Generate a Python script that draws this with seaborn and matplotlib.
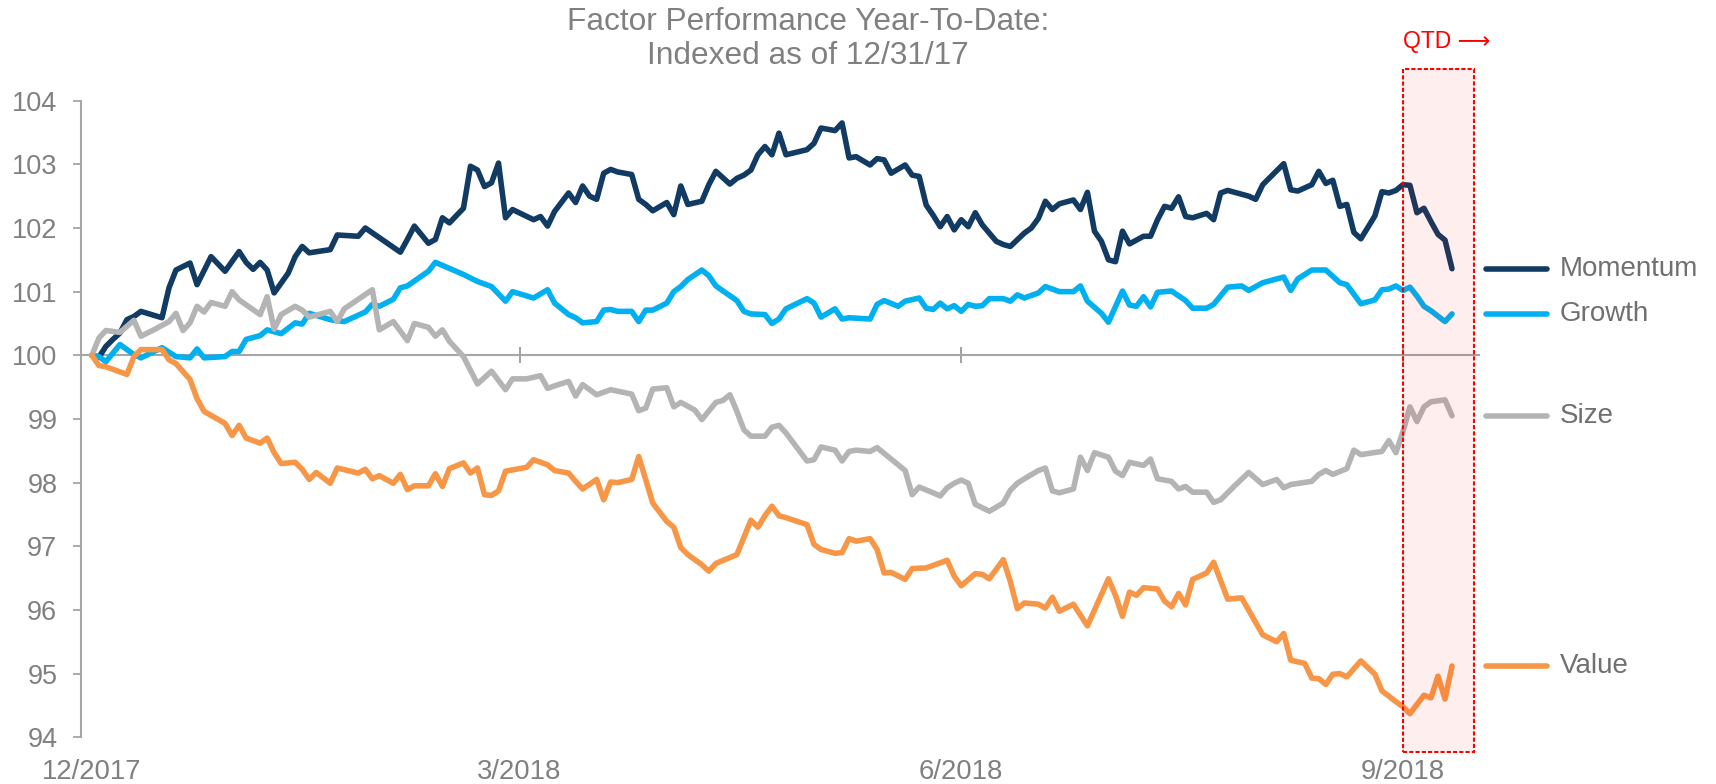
import pandas as pd
import seaborn as sns
import matplotlib.pyplot as plt
import matplotlib.transforms as mtransforms

# trading-day number since 12/29/2017 and index level
momentum_day = [0, 1, 2, 3, 4, 5, 6, 7, 10, 11, 12, 14, 15, 17, 19, 21, 22, 23, 24, 25,
                26, 28, 29, 30, 31, 34, 35, 38, 39, 44, 45, 46, 48, 49, 50, 51, 53, 54, 55, 56,
                57, 58, 59, 60, 63, 64, 65, 66, 68, 69, 70, 71, 72, 73, 74, 75, 77, 78, 79, 80,
                82, 83, 84, 85, 87, 88, 89, 91, 92, 93, 94, 95, 96, 97, 98, 99, 102, 103, 104, 106,
                107, 108, 109, 111, 112, 113, 114, 116, 117, 118, 119, 120, 121, 122, 123, 124, 125, 126, 127, 129,
                130, 131, 133, 134, 135, 136, 137, 138, 140, 141, 142, 143, 144, 145, 146, 147, 148, 150, 151, 152,
                153, 154, 155, 156, 157, 159, 160, 161, 162, 165, 166, 167, 170, 171, 172, 174, 175, 176, 177, 178,
                179, 180, 181, 183, 184, 185, 186, 187, 188, 189, 190, 191, 192, 193, 194]
momentum_val = [100.00, 99.97, 100.14, 100.25, 100.35, 100.56, 100.61, 100.69, 100.59, 101.06,
                 101.34, 101.45, 101.11, 101.55, 101.32, 101.63, 101.46, 101.35, 101.46, 101.34,
                 100.98, 101.29, 101.55, 101.71, 101.61, 101.66, 101.89, 101.87, 102.00, 101.62,
                 101.82, 102.03, 101.76, 101.82, 102.16, 102.08, 102.31, 102.97, 102.91, 102.65,
                 102.71, 103.02, 102.16, 102.29, 102.13, 102.18, 102.03, 102.26, 102.55, 102.40,
                 102.66, 102.50, 102.45, 102.86, 102.92, 102.88, 102.84, 102.45, 102.37, 102.27,
                 102.40, 102.21, 102.66, 102.37, 102.42, 102.68, 102.89, 102.69, 102.78, 102.83,
                 102.91, 103.15, 103.28, 103.15, 103.49, 103.15, 103.23, 103.33, 103.57, 103.53,
                 103.65, 103.10, 103.12, 102.99, 103.09, 103.07, 102.86, 102.99, 102.83, 102.81,
                 102.36, 102.20, 102.02, 102.18, 101.97, 102.13, 102.02, 102.24, 102.05, 101.79,
                 101.74, 101.71, 101.92, 102.00, 102.15, 102.42, 102.29, 102.38, 102.44, 102.29,
                 102.56, 101.95, 101.79, 101.50, 101.47, 101.95, 101.75, 101.87, 101.87, 102.13,
                 102.34, 102.31, 102.49, 102.18, 102.16, 102.23, 102.13, 102.55, 102.59, 102.50,
                 102.45, 102.68, 103.01, 102.60, 102.58, 102.68, 102.89, 102.70, 102.75, 102.34,
                 102.37, 101.93, 101.83, 102.19, 102.57, 102.55, 102.59, 102.68, 102.67, 102.24,
                 102.31, 102.10, 101.90, 101.81, 101.36]

growth_day = [0, 1, 2, 4, 6, 7, 10, 12, 14, 15, 16, 19, 20, 21, 22, 24, 25, 27, 29, 30,
              31, 34, 36, 39, 40, 41, 43, 44, 45, 48, 49, 53, 55, 57, 59, 60, 63, 65, 66, 68,
              69, 70, 72, 73, 74, 75, 77, 78, 79, 80, 82, 83, 84, 85, 87, 88, 89, 92, 93, 94,
              96, 97, 98, 99, 102, 103, 104, 106, 107, 108, 111, 112, 113, 115, 116, 118, 119, 120, 121, 122,
              123, 124, 125, 126, 127, 128, 130, 131, 132, 133, 135, 136, 138, 140, 141, 142, 144, 145, 147, 148,
              149, 150, 151, 152, 154, 156, 157, 159, 160, 162, 164, 165, 167, 170, 171, 172, 174, 176, 178, 179,
              181, 183, 184, 185, 186, 187, 188, 189, 190, 191, 193, 194]
growth_val = [100.00, 99.98, 99.90, 100.17, 100.01, 99.96, 100.12, 99.98, 99.96, 100.10,
              99.96, 99.98, 100.06, 100.06, 100.25, 100.31, 100.40, 100.34, 100.51, 100.49,
              100.66, 100.56, 100.53, 100.68, 100.80, 100.77, 100.88, 101.06, 101.09, 101.32,
              101.46, 101.27, 101.16, 101.08, 100.85, 101.00, 100.90, 101.03, 100.82, 100.64,
              100.59, 100.51, 100.53, 100.71, 100.72, 100.69, 100.69, 100.53, 100.71, 100.71,
              100.82, 101.00, 101.08, 101.19, 101.34, 101.25, 101.09, 100.86, 100.69, 100.65,
              100.64, 100.50, 100.57, 100.73, 100.89, 100.82, 100.60, 100.73, 100.57, 100.59,
              100.57, 100.80, 100.86, 100.77, 100.85, 100.90, 100.74, 100.72, 100.82, 100.73,
              100.78, 100.69, 100.80, 100.77, 100.78, 100.89, 100.89, 100.85, 100.95, 100.90,
              100.98, 101.08, 101.00, 101.00, 101.09, 100.85, 100.66, 100.52, 101.01, 100.79,
              100.77, 100.92, 100.76, 100.99, 101.01, 100.86, 100.74, 100.74, 100.80, 101.07,
              101.09, 101.02, 101.14, 101.23, 101.02, 101.20, 101.34, 101.34, 101.14, 101.11,
              100.81, 100.87, 101.03, 101.04, 101.09, 101.02, 101.07, 100.93, 100.77, 100.70,
              100.53, 100.65]

size_day = [0, 1, 2, 4, 6, 7, 9, 11, 12, 13, 14, 15, 16, 17, 19, 20, 21, 24, 25, 26,
            27, 29, 30, 31, 34, 35, 36, 40, 41, 43, 45, 46, 48, 49, 50, 51, 53, 55, 57, 59,
            60, 62, 64, 65, 66, 68, 69, 70, 72, 73, 74, 77, 78, 79, 80, 82, 83, 84, 86, 87,
            89, 90, 91, 92, 93, 94, 96, 97, 98, 99, 102, 103, 104, 106, 107, 108, 109, 111, 112, 114,
            116, 117, 118, 120, 121, 122, 123, 124, 125, 126, 128, 130, 131, 132, 133, 135, 136, 137, 138, 140,
            141, 142, 143, 145, 146, 147, 148, 150, 151, 152, 154, 155, 156, 157, 159, 160, 161, 163, 165, 167,
            169, 170, 171, 174, 175, 176, 177, 179, 180, 181, 184, 185, 186, 187, 188, 189, 190, 191, 193, 194]
size_val = [100.00, 100.27, 100.39, 100.36, 100.55, 100.30, 100.41, 100.53, 100.66, 100.39,
            100.51, 100.77, 100.68, 100.83, 100.77, 101.00, 100.87, 100.64, 100.92, 100.41,
            100.64, 100.77, 100.71, 100.60, 100.69, 100.53, 100.73, 101.03, 100.40, 100.53,
            100.23, 100.50, 100.44, 100.30, 100.40, 100.22, 99.98, 99.55, 99.75, 99.46,
            99.63, 99.63, 99.68, 99.48, 99.52, 99.59, 99.36, 99.54, 99.38, 99.42,
            99.46, 99.39, 99.13, 99.17, 99.47, 99.49, 99.19, 99.26, 99.14, 98.99,
            99.26, 99.29, 99.38, 99.12, 98.83, 98.73, 98.73, 98.87, 98.90, 98.78,
            98.34, 98.36, 98.56, 98.51, 98.34, 98.49, 98.51, 98.49, 98.55, 98.37,
            98.19, 97.81, 97.93, 97.84, 97.79, 97.92, 97.99, 98.04, 97.99, 97.66,
            97.55, 97.68, 97.88, 97.99, 98.06, 98.19, 98.23, 97.87, 97.84, 97.90,
            98.40, 98.19, 98.47, 98.40, 98.18, 98.11, 98.32, 98.27, 98.37, 98.06,
            98.02, 97.90, 97.94, 97.85, 97.85, 97.69, 97.73, 97.95, 98.16, 97.97,
            98.05, 97.92, 97.97, 98.02, 98.13, 98.19, 98.13, 98.22, 98.51, 98.44,
            98.49, 98.66, 98.47, 98.80, 99.19, 98.96, 99.19, 99.27, 99.30, 99.05]

value_day = [0, 1, 2, 5, 6, 7, 10, 11, 12, 14, 15, 16, 19, 20, 21, 22, 24, 25, 26, 27,
             29, 30, 31, 32, 34, 35, 38, 39, 40, 41, 43, 44, 45, 46, 48, 49, 50, 51, 53, 54,
             55, 56, 57, 58, 59, 62, 63, 65, 66, 68, 69, 70, 72, 73, 74, 75, 77, 78, 80, 82,
             83, 84, 85, 87, 88, 89, 92, 94, 95, 96, 97, 98, 99, 102, 103, 104, 106, 107, 108, 109,
             111, 112, 113, 114, 116, 117, 119, 122, 123, 124, 126, 127, 128, 130, 131, 132, 133, 135, 136, 137,
             138, 140, 142, 145, 146, 147, 148, 149, 150, 152, 153, 154, 155, 156, 157, 159, 160, 162, 164, 167,
             169, 170, 171, 173, 174, 175, 176, 177, 178, 179, 181, 183, 184, 186, 187, 188, 190, 191, 192, 193,
             194]
value_val = [100.00, 99.84, 99.82, 99.70, 99.98, 100.09, 100.09, 99.93, 99.87, 99.62,
             99.32, 99.12, 98.93, 98.74, 98.90, 98.70, 98.62, 98.70, 98.47, 98.30,
             98.32, 98.21, 98.05, 98.16, 97.99, 98.23, 98.15, 98.21, 98.06, 98.11,
             97.99, 98.13, 97.89, 97.95, 97.95, 98.14, 97.94, 98.22, 98.31, 98.15,
             98.23, 97.81, 97.80, 97.87, 98.18, 98.24, 98.36, 98.28, 98.19, 98.15,
             98.02, 97.90, 98.05, 97.73, 98.01, 98.00, 98.05, 98.41, 97.68, 97.39,
             97.30, 96.98, 96.87, 96.71, 96.61, 96.73, 96.87, 97.41, 97.30, 97.48,
             97.63, 97.48, 97.45, 97.34, 97.03, 96.95, 96.89, 96.90, 97.12, 97.08,
             97.12, 96.95, 96.58, 96.59, 96.48, 96.65, 96.66, 96.78, 96.53, 96.38,
             96.57, 96.56, 96.49, 96.79, 96.45, 96.02, 96.11, 96.09, 96.03, 96.20,
             95.98, 96.09, 95.75, 96.49, 96.23, 95.90, 96.28, 96.23, 96.35, 96.33,
             96.14, 96.05, 96.26, 96.08, 96.48, 96.58, 96.75, 96.17, 96.19, 95.61,
             95.50, 95.63, 95.21, 95.16, 94.93, 94.92, 94.83, 94.99, 95.00, 94.95,
             95.20, 94.99, 94.73, 94.56, 94.48, 94.37, 94.66, 94.62, 94.96, 94.60,
             95.12]

factor_names = ["Momentum", "Growth", "Size", "Value"]
factor_colors = ["#113B62", "#00B0F0", "#B4B4B4", "#F79646"]

quarter_days = [0, 61, 124, 187]
quarter_labels = ["12/2017", "3/2018", "6/2018", "9/2018"]
qtd_start = 187


def main() -> None:
    series = {
        "Momentum": (momentum_day, momentum_val),
        "Growth": (growth_day, growth_val),
        "Size": (size_day, size_val),
        "Value": (value_day, value_val),
    }
    frames = [
        pd.DataFrame({"day": d, "level": v, "factor": name})
        for name, (d, v) in series.items()
    ]
    df = pd.concat(frames, ignore_index=True)

    sns.set_theme(style="white")
    plt.rcParams["font.family"] = ["Liberation Sans", "DejaVu Sans"]

    fig = plt.figure(figsize=(17.16, 7.84), dpi=100)
    ax = fig.add_axes([0.047, 0.0596, 0.8155, 0.812])

    sns.lineplot(
        data=df, x="day", y="level", hue="factor", hue_order=factor_names,
        palette=factor_colors, linewidth=4.0, estimator=None, sort=False,
        legend=False, ax=ax,
    )
    for line in ax.lines:
        line.set_solid_joinstyle("round")
        line.set_solid_capstyle("round")

    ax.set_xlim(-1.6, 198)
    ax.set_ylim(94, 104)
    ax.set_xlabel("")
    ax.set_ylabel("")

    # axes styling
    for side in ["top", "right", "bottom"]:
        ax.spines[side].set_visible(False)
    ax.spines["left"].set_color("#A6A6A6")
    ax.spines["left"].set_linewidth(1.5)

    ax.set_yticks(range(94, 105))
    ax.tick_params(axis="y", left=True, length=5.8, width=1.3, color="#A6A6A6",
                   pad=11, labelsize=19.5, labelcolor="#808080")
    ax.set_xticks(quarter_days)
    ax.set_xticklabels(quarter_labels)
    ax.set_xticks(quarter_days[1:], minor=True)
    ax.tick_params(axis="x", which="both", length=0, pad=16, labelsize=19.8,
                   labelcolor="#808080")
    ax.grid(False)
    ax.xaxis.grid(True, which="minor", color="#D9D9D9", linewidth=1.5)
    ax.set_axisbelow(True)

    ax.axhline(100, color="#A6A6A6", linewidth=1.5, zorder=1.5)
    sec = ax.secondary_xaxis(0.6)
    sec.set_xticks(quarter_days[1:])
    sec.tick_params(direction="inout", length=11, width=1.3, color="#999999",
                    labelbottom=False, labeltop=False)
    for sp in sec.spines.values():
        sp.set_visible(False)

    # QTD band
    ax.axvspan(qtd_start, 197.1, ymin=-0.023, ymax=1.049,
               facecolor=(1, 0, 0, 0.065), edgecolor="red", linewidth=1.5,
               linestyle=(0, (2, 1)), clip_on=False, zorder=5)
    trans_x = mtransforms.blended_transform_factory(ax.transData, ax.transAxes)
    ax.text(qtd_start, 1.093, "QTD ⟶", transform=trans_x, ha="left",
            va="center", fontsize=16.5, color="red")

    # labels at the right, at each series' last value
    trans_y = mtransforms.blended_transform_factory(ax.transAxes, ax.transData)
    for name, color in zip(factor_names, factor_colors):
        last = series[name][1][-1]
        ax.plot([1.004, 1.048], [last, last], transform=trans_y, color=color,
                linewidth=4.0, solid_capstyle="round", clip_on=False)
        ax.text(1.057, last, name, transform=trans_y, ha="left", va="center",
                fontsize=20, color="#707070")

    fig.text(0.471, 0.950,
             "Factor Performance Year-To-Date:\nIndexed as of 12/31/17",
             ha="center", va="center", fontsize=22.8, color="#808080",
             linespacing=1.15)

    fig.savefig("out.png", dpi=100)
    plt.close(fig)


if __name__ == "__main__":
    main()
